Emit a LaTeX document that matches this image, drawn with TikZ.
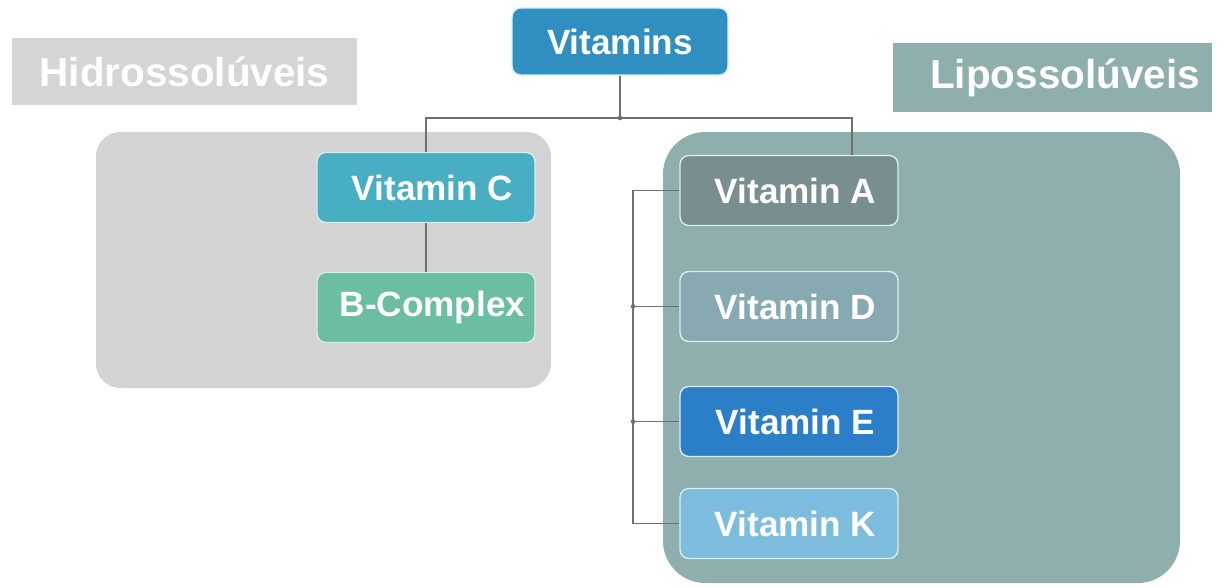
\documentclass[tikz,border=0pt]{standalone}
\usepackage{fontspec}
\setmainfont{Liberation Sans}

\definecolor{vitblue}{HTML}{2F8FC0}
\definecolor{hidrolabel}{HTML}{D5D5D5}
\definecolor{lipolabel}{HTML}{8EAFAD}
\definecolor{hidrofill}{HTML}{D3D3D3}
\definecolor{lipofill}{HTML}{8FAFAE}
\definecolor{colC}{HTML}{48AEC2}
\definecolor{colB}{HTML}{6BBEA2}
\definecolor{colA}{HTML}{798E91}
\definecolor{colD}{HTML}{86A9B2}
\definecolor{colE}{HTML}{2B7EC8}
\definecolor{colK}{HTML}{7CBDDE}
\definecolor{boxline}{HTML}{D6EEF0}
\definecolor{linegray}{HTML}{707070}

\begin{document}
\begin{tikzpicture}
    [x=0.02cm,y=-0.02cm,
     every node/.style={text=white,font=\bfseries\fontsize{20}{24}\selectfont},
     basebox/.style={rounded corners=5pt,minimum width=4.36cm,minimum height=1.4cm,draw=boxline,line width=0.8pt},
     vbox/.style={basebox,execute at begin node=\hspace*{0.26cm}},
     grouplabel/.style={font=\bfseries\fontsize{23}{27}\selectfont},
     link/.style={draw=linegray,line width=0.6pt}]
      \useasboundingbox (0,0) rectangle (1225,586);

      % groups
      \fill[hidrofill,rounded corners=14pt] (96,132) rectangle (551,388);
      \fill[lipofill,rounded corners=24pt] (663,132) rectangle (1180,583);

      \node (hidro)[grouplabel,fill=hidrolabel,minimum width=6.9cm,minimum height=1.34cm] at (184.5,71.5) {Hidrossolúveis};
      \node (lipo)[grouplabel,fill=lipolabel,minimum width=6.38cm,minimum height=1.38cm]  at (1052.5,77.5) {\hspace*{0.5cm}Lipossolúveis};

      \node (vit)[basebox,fill=vitblue,minimum width=4.32cm,minimum height=1.34cm] at (620,41.5) {Vitamins};

      \node (vc)[vbox,fill=colC] at (426,187.5) {Vitamin C};
      \node (vb)[vbox,fill=colB] at (426,307.5) {B-Complex};

      \node (va)[vbox,fill=colA] at (789,190.5) {Vitamin A};
      \node (vd)[vbox,fill=colD] at (789,306.5) {Vitamin D};
      \node (ve)[vbox,fill=colE] at (789,421.5) {Vitamin E};
      \node (vk)[vbox,fill=colK] at (789,523.5) {Vitamin K};

      \coordinate (j)  at (620,118);
      \coordinate (ja) at (852,118);
      \coordinate (bk) at (633,187);

      \draw[link] (vit) -- (j);
      \draw[link] (j) -| (vc.north);
      \draw[link] (j) -- (ja) -- (ja |- va.north);
      \draw[link] (vc) -- (vb);

      \draw[link] (va.west) -- (va.west -| bk) |- (vk.west);
      \foreach \to in {vd,ve}
	\draw[link] (\to.west -| bk) -- (\to.west);

      \fill[linegray] (j) circle (1.3pt);
      \foreach \to in {vd,ve}
	\fill[linegray] (\to.west -| bk) circle (1.3pt);
    \end{tikzpicture}
\end{document}
